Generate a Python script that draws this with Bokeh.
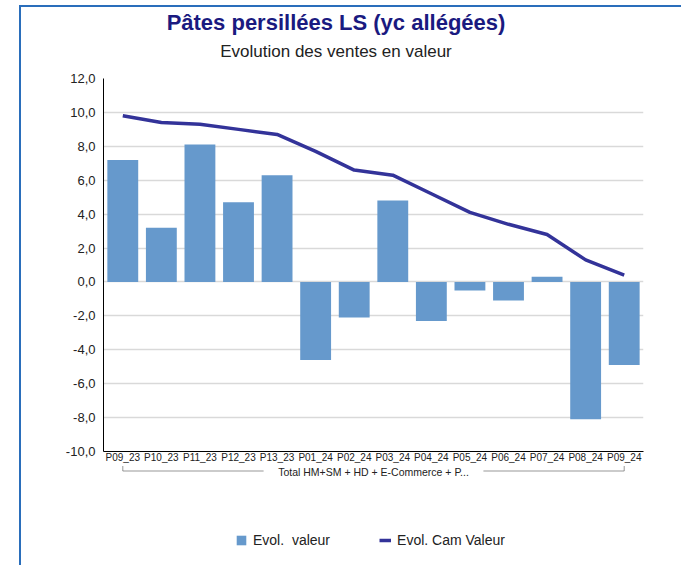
from bokeh.plotting import figure
from bokeh.models import (FactorRange, Div, Legend, LegendItem, ColumnDataSource,
                          FixedTicker, PolyAnnotation, Label, Range1d)
from bokeh.layouts import column
from bokeh.embed import file_html
from bokeh.resources import INLINE

title_text = "Pâtes persillées LS (yc allégées)"
subtitle_text = "Evolution des ventes en valeur"
group_label = "Total HM+SM + HD + E-Commerce + P..."
periods = ["P09_23", "P10_23", "P11_23", "P12_23", "P13_23", "P01_24", "P02_24",
           "P03_24", "P04_24", "P05_24", "P06_24", "P07_24", "P08_24", "P09_24"]
evol_valeur = [7.2, 3.2, 8.1, 4.7, 6.3, -4.6, -2.1, 4.8, -2.3, -0.5, -1.1, 0.3, -8.1, -4.9]
evol_cam_valeur = [9.8, 9.4, 9.3, 9.0, 8.7, 7.7, 6.6, 6.3, 5.2, 4.1, 3.4, 2.8, 1.3, 0.4]
y_ticks = [-10, -8, -6, -4, -2, 0, 2, 4, 6, 8, 10, 12]
y_tick_labels = ["-10,0", "-8,0", "-6,0", "-4,0", "-2,0", "0,0", "2,0", "4,0",
                 "6,0", "8,0", "10,0", "12,0"]
series_names = ["Evol.  valeur", "Evol. Cam Valeur"]

FONT = "Liberation Sans"
BAR_COLOR = "#6699cc"
LINE_COLOR = "#333399"
TEXT_COLOR = "#222222"

src = ColumnDataSource(dict(x=periods, valeur=evol_valeur, cam=evol_cam_valeur))
xr = FactorRange(*periods, range_padding=0, factor_padding=0)

# ---------------- main chart ----------------
p = figure(x_range=xr, y_range=(-10, 12), frame_width=540, frame_height=373,
           output_backend="svg", toolbar_location=None,
           min_border_left=82, min_border_right=38, min_border_top=13, min_border_bottom=0)
p.outline_line_color = None

bars = p.vbar(x="x", top="valeur", width=0.8, source=src, fill_color=BAR_COLOR, line_color=None)
line = p.line(x="x", y="cam", source=src, line_color=LINE_COLOR, line_width=3.5)

p.yaxis.ticker = FixedTicker(ticks=y_ticks)
p.yaxis.major_label_overrides = {t: l for t, l in zip(y_ticks, y_tick_labels)}
p.yaxis.major_label_text_font = FONT
p.yaxis.major_label_text_font_size = "13px"
p.yaxis.major_label_text_color = TEXT_COLOR
p.yaxis.axis_line_color = "black"
p.yaxis.major_tick_out = 0
p.yaxis.major_tick_in = 0
p.yaxis.minor_tick_line_color = None
p.yaxis.major_label_standoff = 8

p.xaxis.major_label_text_font = FONT
p.xaxis.major_label_text_font_size = "10px"
p.xaxis.major_label_text_color = TEXT_COLOR
p.xaxis.major_label_standoff = 0
p.xaxis.major_tick_out = 0
p.xaxis.major_tick_in = 0
p.xaxis.axis_line_color = "black"

p.xgrid.grid_line_color = None
p.ygrid.grid_line_color = "#d9d9d9"
p.ygrid.grid_line_width = 1.5

# ---------------- group bracket and legend ----------------
H2 = 100
p2 = figure(x_range=xr, y_range=Range1d(-H2, 0), frame_width=540, frame_height=H2,
            output_backend="svg", toolbar_location=None,
            x_axis_location=None, y_axis_location=None,
            min_border_left=82, min_border_right=38, min_border_top=0, min_border_bottom=0)
p2.outline_line_color = None
p2.grid.visible = False

n = len(periods)
p2.add_layout(Label(x=n / 2, y=0, text=group_label, text_align="center",
                    text_baseline="top", text_font=FONT, text_font_size="10.5px",
                    text_color=TEXT_COLOR))
for xs in ([0.5, 0.5, 4.15, 0.5], [n - 0.5, n - 0.5, 9.85, n - 0.5]):
    p2.add_layout(PolyAnnotation(xs=xs, ys=[-0.5, -5.5, -5.5, -5.5],
                                 fill_alpha=0, line_color="#444444", line_width=1))

nan = float("nan")
leg_bar = p2.vbar(x=[periods[0]], top=[nan], width=0.8, fill_color=BAR_COLOR, line_color=None)
leg_line = p2.line(x=[periods[0]], y=[nan], line_color=LINE_COLOR, line_width=3.5)
legend = Legend(items=[LegendItem(label=series_names[0], renderers=[leg_bar]),
                       LegendItem(label=series_names[1], renderers=[leg_line])],
                location=(132, 17), orientation="horizontal",
                glyph_width=12, glyph_height=12, label_standoff=6, spacing=49,
                padding=0, margin=0, border_line_color=None, background_fill_alpha=0,
                label_text_font=FONT, label_text_font_size="14px", label_text_color=TEXT_COLOR)
p2.add_layout(legend, "center")

# ---------------- titles ----------------
title = Div(text=title_text, width=630, height=32, margin=0,
            styles={"text-align": "center", "font-family": FONT, "font-size": "22px",
                    "font-weight": "bold", "color": "#1a1a80", "line-height": "32px"})
subtitle = Div(text=subtitle_text, width=630, height=26, margin=0,
               styles={"text-align": "center", "font-family": FONT, "font-size": "17px",
                       "color": TEXT_COLOR, "line-height": "26px"})

layout = column(title, subtitle, p, p2, margin=(5, 0, 0, 19), spacing=0,
                styles={"border-left": "2px solid #2a6ebb", "border-top": "2px solid #2a6ebb"})

open("out.html", "w").write(file_html(layout, INLINE))
